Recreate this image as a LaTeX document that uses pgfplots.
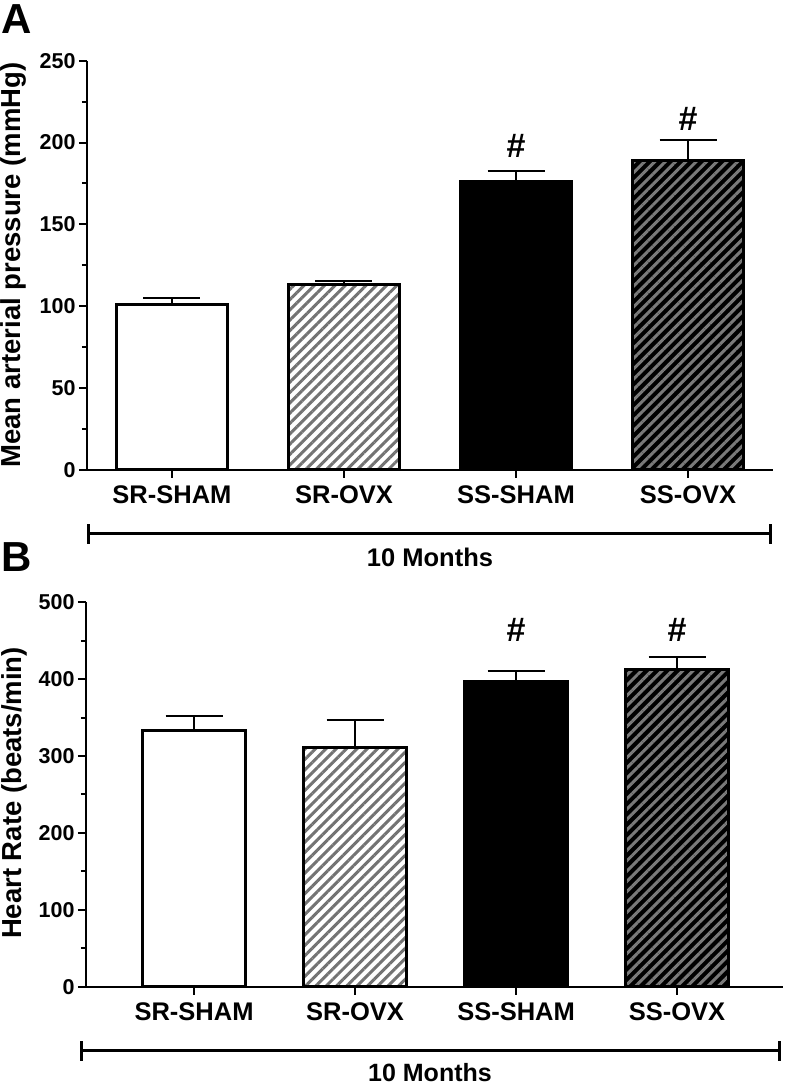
\documentclass[border=0pt]{standalone}
\usepackage{pgfplots}
\pgfplotsset{compat=1.18}
\usepackage{fontspec}
\setmainfont{Liberation Sans}
\usetikzlibrary{patterns.meta}

\newcommand{\fs}[1]{\fontsize{#1}{#1}\selectfont\bfseries}

\pgfplotsset{
  panel/.style={
    scale only axis,
    anchor=south west,
    axis x line*=bottom, axis y line*=left,
    axis line style={line width=2pt},
    every tick/.style={black, line width=2pt},
    tick align=outside,
    major tick length=8pt, minor tick length=5pt,
    minor y tick num=1,
    xtick={0,1,2,3},
    xticklabels={SR-SHAM,SR-OVX,SS-SHAM,SS-OVX},
    ymin=0,
    /pgf/number format/assume math mode=true,
    yticklabel style={font=\fs{21.5}},
    xticklabel style={font=\fs{25.5}, yshift=-4pt},
    ybar, bar width=0.645, bar shift=0pt,
    clip=false,
    error bars/y dir=plus, error bars/y explicit,
    error bars/error bar style={line width=2pt, black},
    error bars/error mark options={rotate=90, line width=2pt, black, mark size=28.5pt},
  },
  openbar/.style={fill=white, draw=black, line width=3pt},
  lighthatch/.style={preaction={fill=white}, pattern={Lines[angle=45,distance=7.3pt,line width=3pt]}, pattern color=black!55, draw=black, line width=3pt},
  solidbar/.style={fill=black, draw=black, line width=3pt},
  darkhatch/.style={preaction={fill=black}, pattern={Lines[angle=45,distance=7.3pt,line width=3pt]}, pattern color=black!52, draw=black, line width=3pt},
}

\begin{document}
\begin{tikzpicture}[x=1pt,y=1pt]
\useasboundingbox (0,0) rectangle (788,1085);

% panel A
\begin{axis}[panel, at={(87pt,615pt)}, width=686pt, height=409.3pt,
  xmin=-0.494, xmax=3.494, ymax=250, ytick={0,50,...,250}]
\addplot[openbar] coordinates {(0,101) +- (0,4)};
\addplot[lighthatch] coordinates {(1,113.6) +- (0,1.8)};
\addplot[solidbar] coordinates {(2,176.5) +- (0,6.2)};
\addplot[darkhatch] coordinates {(3,189.3) +- (0,12.3)};
\node[font=\fs{34}] at (axis cs:2,198) {\#};
\node[font=\fs{34}] at (axis cs:3,214.4) {\#};
\end{axis}

% panel B
\begin{axis}[panel, at={(86pt,98.3pt)}, width=697pt, height=384.4pt,
  xmin=-0.671, xmax=3.658, ymax=500, ytick={0,100,...,500}]
\addplot[openbar] coordinates {(0,333.5) +- (0,19)};
\addplot[lighthatch] coordinates {(1,311) +- (0,36)};
\addplot[solidbar] coordinates {(2,397.6) +- (0,13)};
\addplot[darkhatch] coordinates {(3,412.3) +- (0,16)};
\node[font=\fs{34}] at (axis cs:2,464) {\#};
\node[font=\fs{34}] at (axis cs:3,464) {\#};
\end{axis}

\node[rotate=90, font=\fs{27.5}] at (13.5,820) {Mean arterial pressure (mmHg)};
\node[rotate=90, font=\fs{27.5}] at (14,292) {Heart Rate (beats/min)};

\node[font=\fs{42}] at (17,1066) {A};
\node[font=\fs{42}] at (17,528) {B};

\draw[line width=3pt] (88.7,551) -- (770.7,551);
\draw[line width=3pt] (88.7,541) -- (88.7,561);
\draw[line width=3pt] (770.7,541) -- (770.7,561);
\node[font=\fs{25.5}] at (430,528) {10 Months};

\draw[line width=3pt] (81,34.3) -- (779,34.3);
\draw[line width=3pt] (81,24.3) -- (81,44.3);
\draw[line width=3pt] (779,24.3) -- (779,44.3);
\node[font=\fs{25}, anchor=base, inner sep=0pt] at (430,3) {10 Months};
\end{tikzpicture}
\end{document}
